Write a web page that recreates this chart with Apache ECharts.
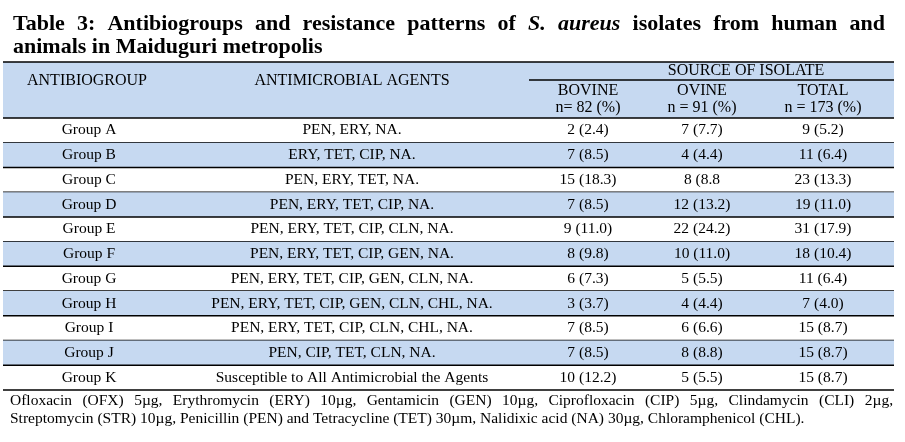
<!DOCTYPE html>
<html>
<head>
<meta charset="utf-8">
<script src="https://cdn.jsdelivr.net/npm/echarts@6/dist/echarts.min.js"></script>
<style>
html,body{margin:0;padding:0;background:#fff;}
#chart{width:905px;height:442px;}
</style>
</head>
<body>
<div id="chart"></div>
<script>
// table data
var groups = ['Group A', 'Group B', 'Group C', 'Group D', 'Group E', 'Group F', 'Group G', 'Group H', 'Group I', 'Group J', 'Group K'];
var agents = [
    'PEN, ERY, NA.',
    'ERY, TET, CIP, NA.',
    'PEN, ERY, TET, NA.',
    'PEN, ERY, TET, CIP, NA.',
    'PEN, ERY, TET, CIP, CLN, NA.',
    'PEN, ERY, TET, CIP, GEN, NA.',
    'PEN, ERY, TET, CIP, GEN, CLN, NA.',
    'PEN, ERY, TET, CIP, GEN, CLN, CHL, NA.',
    'PEN, ERY, TET, CIP, CLN, CHL, NA.',
    'PEN, CIP, TET, CLN, NA.',
    'Susceptible to All Antimicrobial the Agents'
];
var bovine = ['2 (2.4)', '7 (8.5)', '15 (18.3)', '7 (8.5)', '9 (11.0)', '8 (9.8)', '6 (7.3)', '3 (3.7)', '7 (8.5)', '7 (8.5)', '10 (12.2)'];
var ovine = ['7 (7.7)', '4 (4.4)', '8 (8.8', '12 (13.2)', '22 (24.2)', '10 (11.0)', '5 (5.5)', '4 (4.4)', '6 (6.6)', '8 (8.8)', '5 (5.5)'];
var total = ['9 (5.2)', '11 (6.4)', '23 (13.3)', '19 (11.0)', '31 (17.9)', '18 (10.4)', '11 (6.4)', '7 (4.0)', '15 (8.7)', '15 (8.7)', '15 (8.7)'];

var titleLines = ['Table 3: Antibiogroups  and resistance patterns of S. aureus isolates from human and', 'animals in Maiduguri metropolis'];
var headCols = ['ANTIBIOGROUP', 'ANTIMICROBIAL AGENTS'];
var sourceHead = 'SOURCE OF ISOLATE';
var subHeads = ['BOVINE', 'OVINE', 'TOTAL'];
var subCounts = ['n= 82 (%)', 'n = 91 (%)', 'n = 173 (%)'];
var notes = [
    'Ofloxacin (OFX) 5\u00b5g, Erythromycin (ERY) 10\u00b5g, Gentamicin (GEN) 10\u00b5g, Ciprofloxacin (CIP) 5\u00b5g, Clindamycin (CLI) 2\u00b5g,',
    'Streptomycin (STR) 10\u00b5g, Penicillin (PEN) and Tetracycline (TET) 30\u00b5m, Nalidixic acid (NA) 30\u00b5g, Chloramphenicol (CHL).'
];

// layout
var FONT = 'Liberation Serif';
var FS = 15.5;
var blue = '#c6d9f1';
var tblL = 3, tblR = 894;
var colX = [89, 352, 588, 702, 823];
var cols = [groups, agents, bovine, ovine, total];

var measure = document.createElement('canvas').getContext('2d');

// spread words across a line
function justify(line, x0, x1, y, size, weight, italicWords) {
    var words = line.split(/\s+/);
    var font = (weight || 'normal') + ' ' + size + 'px "' + FONT + '"';
    var widths = words.map(function (w) {
        measure.font = ((italicWords && italicWords.indexOf(w) >= 0) ? 'italic ' : '') + font;
        return measure.measureText(w).width;
    });
    var sum = widths.reduce(function (a, b) { return a + b; }, 0);
    var gap = (x1 - x0 - sum) / (words.length - 1);
    var x = x0, out = [];
    words.forEach(function (w, i) {
        out.push({
            type: 'text', x: x, y: y,
            style: {
                text: w, fill: '#000', fontFamily: FONT, fontSize: size, fontWeight: weight || 'normal',
                fontStyle: (italicWords && italicWords.indexOf(w) >= 0) ? 'italic' : 'normal',
                verticalAlign: 'middle'
            }
        });
        x += widths[i] + gap;
    });
    return out;
}

function txt(s, x, y, align, extra) {
    var st = {text: s, fill: '#000', fontFamily: FONT, fontSize: FS, align: align || 'center', verticalAlign: 'middle'};
    for (var k in extra) st[k] = extra[k];
    return {type: 'text', x: x, y: y, style: st};
}

var graphics = [];
graphics = graphics.concat(justify(titleLines[0], 13, 885, 24, 22, 'bold', ['S.', 'aureus']));
graphics.push(txt(titleLines[1], 13, 47, 'left', {fontSize: 22, fontWeight: 'bold'}));
// header block
graphics.push({type: 'rect', shape: {x: tblL, y: 62, width: tblR - tblL, height: 56}, style: {fill: blue}});
graphics.push({type: 'line', shape: {x1: tblL, y1: 62, x2: tblR, y2: 62}, style: {stroke: '#000', lineWidth: 1.5}});
graphics.push({type: 'line', shape: {x1: 529, y1: 80, x2: tblR, y2: 80}, style: {stroke: '#000', lineWidth: 1.5}});
graphics.push({type: 'line', shape: {x1: tblL, y1: 118, x2: tblR, y2: 118}, style: {stroke: '#000', lineWidth: 1.5}});
graphics.push(txt(headCols[0], 87, 81, 'center', {fontSize: 16}));
graphics.push(txt(headCols[1], colX[1], 81, 'center', {fontSize: 16}));
graphics.push(txt(sourceHead, 746, 71, 'center', {fontSize: 16}));
subHeads.forEach(function (s, i) {
    graphics.push(txt(s, colX[i + 2], 91, 'center', {fontSize: 16}));
    graphics.push(txt(subCounts[i], colX[i + 2], 108, 'center', {fontSize: 16}));
});
graphics = graphics.concat(justify(notes[0], 10, 893, 401, FS));
graphics.push(txt(notes[1], 10, 419, 'left'));

var chart = echarts.init(document.getElementById('chart'));
var option = {
    animation: false,
    grid: {left: 0, right: 0, top: 118, bottom: 52},
    xAxis: {type: 'value', min: 0, max: 905, show: false},
    yAxis: {type: 'category', data: groups, inverse: true, show: false},
    graphic: graphics,
    series: [{
        type: 'custom',
        data: groups.map(function (g, i) { return [0, i]; }),
        renderItem: function (params, api) {
            var i = api.value(1);
            var c = api.coord([0, i]);
            var h = api.size([0, 1])[1];
            var top = c[1] - h / 2;
            var x0 = api.coord([tblL, i])[0], x1 = api.coord([tblR, i])[0];
            var children = [];
            if (i % 2 === 1) {
                children.push({type: 'rect', shape: {x: x0, y: top, width: x1 - x0, height: h}, style: {fill: blue}});
            }
            children.push({type: 'line', shape: {x1: x0, y1: top + h, x2: x1, y2: top + h}, style: {stroke: '#000', lineWidth: 1.5}});
            cols.forEach(function (col, k) {
                var p = api.coord([colX[k], i]);
                children.push({type: 'text', x: p[0], y: p[1], style: {
                    text: col[i], fill: '#000', fontFamily: FONT, fontSize: FS, align: 'center', verticalAlign: 'middle'
                }});
            });
            return {type: 'group', children: children};
        }
    }]
};
chart.setOption(option);
</script>
</body>
</html>
